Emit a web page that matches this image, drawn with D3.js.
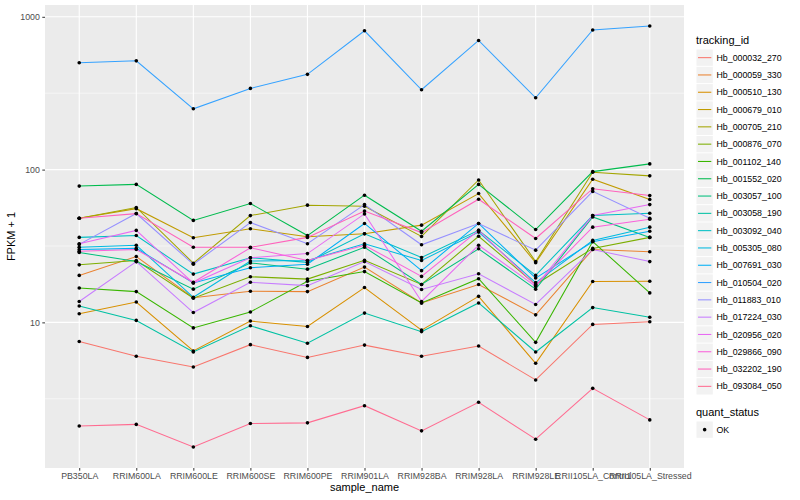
<!DOCTYPE html>
<html>
<head>
<meta charset="utf-8">
<script src="https://cdn.jsdelivr.net/npm/d3@7"></script>
<style>
  body { margin: 0; background: #fff; }
  text { font-family: "Liberation Sans", Arial, sans-serif; }
</style>
</head>
<body>
<div id="chart"></div>
<script>
const samples = ['PB350LA', 'RRIM600LA', 'RRIM600LE', 'RRIM600SE', 'RRIM600PE', 'RRIM901LA',
  'RRIM928BA', 'RRIM928LA', 'RRIM928LE', 'RRII105LA_Control', 'RRII105LA_Stressed'];

const trackingIds = ['Hb_000032_270', 'Hb_000059_330', 'Hb_000510_130', 'Hb_000679_010',
  'Hb_000705_210', 'Hb_000876_070', 'Hb_001102_140', 'Hb_001552_020', 'Hb_003057_100',
  'Hb_003058_190', 'Hb_003092_040', 'Hb_005305_080', 'Hb_007691_030', 'Hb_010504_020',
  'Hb_011883_010', 'Hb_017224_030', 'Hb_020956_020', 'Hb_029866_090', 'Hb_032202_190',
  'Hb_093084_050'];

// FPKM + 1 per sample, one array per tracking id
const hb_000032_270 = [7.5, 6.0, 5.1, 7.15, 5.9, 7.1, 6.0, 7.0, 4.2, 9.7, 10.1];
const hb_000059_330 = [20.3, 27, 14.5, 16, 15.9, 23, 13.4, 17.7, 11.2, 30, 29];
const hb_000510_130 = [11.4, 13.6, 6.5, 10.2, 9.4, 16.9, 8.9, 14.8, 5.4, 18.5, 18.6];
const hb_000679_010 = [48, 55.5, 35.8, 41, 36.3, 38, 43.3, 69.7, 24.6, 86.5, 63.7];
const hb_000705_210 = [48, 56.5, 24.4, 50, 58.5, 57.5, 36.5, 85.5, 25, 96, 91];
const hb_000876_070 = [23.8, 25.4, 14.4, 19.9, 19.2, 25.5, 17.7, 36.6, 17.7, 30.5, 36];
const hb_001102_140 = [16.8, 15.9, 9.2, 11.7, 18.6, 21.5, 13.4, 19.3, 7.4, 33.8, 15.6];
const hb_001552_020 = [78, 80, 46.5, 60, 37, 68, 39.5, 80, 40.5, 97, 109];
const hb_003057_100 = [28.7, 25, 16.5, 24.5, 22.3, 31, 17.7, 30.3, 16.5, 49, 36];
const hb_003058_190 = [12.8, 10.3, 6.4, 9.5, 7.3, 11.5, 8.7, 13.4, 6.4, 12.5, 10.8];
const hb_003092_040 = [36, 37, 20.7, 26.5, 24.7, 38, 26.6, 40, 20.3, 50, 51.8];
const hb_005305_080 = [31, 32, 14.6, 25.2, 25.4, 32.7, 25.4, 39, 18.2, 34.4, 42];
const hb_007691_030 = [30, 30.5, 18.1, 22.8, 24, 44.4, 21.8, 44.4, 19.5, 33.7, 39.5];
const hb_010504_020 = [500, 515, 250, 340, 420, 810, 333, 700, 295, 820, 870];
const hb_011883_010 = [32.4, 51.6, 24, 45, 32.7, 59, 32.2, 44.4, 29.7, 72, 48];
const hb_017224_030 = [13.7, 25, 11.6, 18.3, 17.4, 25, 16.4, 20.8, 13.1, 30, 25];
const hb_020956_020 = [32.7, 40, 18.1, 26.5, 28.2, 51.3, 13.7, 32, 17.2, 50, 59];
const hb_029866_090 = [29.2, 30, 18.3, 30.8, 25.4, 32, 20, 40, 17.5, 42, 47.3];
const hb_032202_190 = [48, 51.5, 31, 31, 36, 53.5, 38.7, 64, 35.4, 75, 67.6];
const hb_093084_050 = [2.1, 2.15, 1.53, 2.18, 2.2, 2.85, 1.95, 3.0, 1.72, 3.7, 2.3];

const seriesValues = [hb_000032_270, hb_000059_330, hb_000510_130, hb_000679_010,
  hb_000705_210, hb_000876_070, hb_001102_140, hb_001552_020, hb_003057_100,
  hb_003058_190, hb_003092_040, hb_005305_080, hb_007691_030, hb_010504_020,
  hb_011883_010, hb_017224_030, hb_020956_020, hb_029866_090, hb_032202_190,
  hb_093084_050];

const yTicks = [10, 100, 1000];
const yMinor = [Math.pow(10, 0.5), Math.pow(10, 1.5), Math.pow(10, 2.5)];
const quantStatus = ['OK'];

// ggplot default hue palette for 20 levels
const palette = ['#F8766D', '#EA8331', '#D89000', '#C09B00', '#A3A500', '#7CAE00', '#39B600',
  '#00BB4E', '#00BF7D', '#00C1A3', '#00BFC4', '#00BAE0', '#00B0F6', '#35A2FF', '#9590FF',
  '#C77CFF', '#E76BF3', '#FA62DB', '#FF62BC', '#FF6C91'];

const series = trackingIds.map((id, i) => ({
  id,
  color: palette[i],
  values: seriesValues[i].map((v, j) => ({ sample: samples[j], value: v }))
}));

const W = 800, H = 500;
const panel = { left: 45, right: 684, top: 5, bottom: 468 };

const svg = d3.select('#chart').append('svg')
  .attr('width', W)
  .attr('height', H);

const x = d3.scalePoint()
  .domain(samples)
  .range([panel.left, panel.right])
  .padding(0.6);

const allVals = seriesValues.flat();
const lo = Math.log10(d3.min(allVals)), hi = Math.log10(d3.max(allVals));
const ex = (hi - lo) * 0.05;
const y = d3.scaleLog()
  .domain([Math.pow(10, lo - ex), Math.pow(10, hi + ex)])
  .range([panel.bottom, panel.top]);

// panel background
svg.append('rect')
  .attr('x', panel.left)
  .attr('y', panel.top)
  .attr('width', panel.right - panel.left)
  .attr('height', panel.bottom - panel.top)
  .attr('fill', '#EBEBEB');

const grid = svg.append('g');
grid.selectAll('.minor')
  .data(yMinor)
  .enter()
  .append('line')
  .attr('x1', panel.left)
  .attr('x2', panel.right)
  .attr('y1', d => y(d))
  .attr('y2', d => y(d))
  .attr('stroke', '#fff')
  .attr('stroke-width', 0.55);

grid.selectAll('.major-y')
  .data(yTicks)
  .enter()
  .append('line')
  .attr('x1', panel.left)
  .attr('x2', panel.right)
  .attr('y1', d => y(d))
  .attr('y2', d => y(d))
  .attr('stroke', '#fff')
  .attr('stroke-width', 1.1);

grid.selectAll('.major-x')
  .data(samples)
  .enter()
  .append('line')
  .attr('x1', d => x(d))
  .attr('x2', d => x(d))
  .attr('y1', panel.top)
  .attr('y2', panel.bottom)
  .attr('stroke', '#fff')
  .attr('stroke-width', 1.1);

const line = d3.line()
  .x(d => x(d.sample))
  .y(d => y(d.value));

svg.append('g')
  .selectAll('path')
  .data(series)
  .enter()
  .append('path')
  .attr('d', d => line(d.values))
  .attr('fill', 'none')
  .attr('stroke', d => d.color)
  .attr('stroke-width', 1.05);

svg.append('g')
  .selectAll('circle')
  .data(series.flatMap(s => s.values))
  .enter()
  .append('circle')
  .attr('cx', d => x(d.sample))
  .attr('cy', d => y(d.value))
  .attr('r', 1.8)
  .attr('fill', '#000');

// axes
const xAxis = svg.append('g')
  .attr('transform', `translate(0,${panel.bottom})`)
  .call(d3.axisBottom(x).tickSize(2.7).tickPadding(2.5));
xAxis.select('.domain').remove();
xAxis.selectAll('line').attr('stroke', '#333');
xAxis.selectAll('text')
  .style('font-size', '8.8px')
  .attr('fill', '#4D4D4D');

const yAxis = svg.append('g')
  .attr('transform', `translate(${panel.left},0)`)
  .call(d3.axisLeft(y).tickValues(yTicks).tickFormat(d3.format('d')).tickSize(2.7).tickPadding(2.5));
yAxis.select('.domain').remove();
yAxis.selectAll('line').attr('stroke', '#333');
yAxis.selectAll('text')
  .style('font-size', '8.8px')
  .attr('fill', '#4D4D4D');

svg.append('text')
  .attr('x', (panel.left + panel.right) / 2)
  .attr('y', 491)
  .attr('text-anchor', 'middle')
  .style('font-size', '11px')
  .text('sample_name');

svg.append('text')
  .attr('transform', `translate(15,${(panel.top + panel.bottom) / 2}) rotate(-90)`)
  .attr('text-anchor', 'middle')
  .style('font-size', '11px')
  .text('FPKM + 1');

// legend: tracking_id
const legend = svg.append('g').attr('transform', 'translate(696,0)');
legend.append('text')
  .attr('x', 0)
  .attr('y', 44)
  .style('font-size', '11px')
  .text('tracking_id');

const keyY = d3.scaleBand()
  .domain(trackingIds)
  .range([49, 49 + 17.3 * trackingIds.length]);

const keys = legend.selectAll('.key')
  .data(series)
  .enter()
  .append('g')
  .attr('transform', d => `translate(0,${keyY(d.id)})`);
keys.append('rect')
  .attr('x', 0.5)
  .attr('y', 0.5)
  .attr('width', 16.3)
  .attr('height', 16.3)
  .attr('fill', '#F2F2F2');
keys.append('line')
  .attr('x1', 2)
  .attr('x2', 15.3)
  .attr('y1', 8.65)
  .attr('y2', 8.65)
  .attr('stroke', d => d.color)
  .attr('stroke-width', 1.05);
keys.append('text')
  .attr('x', 20.5)
  .attr('y', 11.8)
  .style('font-size', '8.8px')
  .text(d => d.id);

// legend: quant_status
const legend2 = svg.append('g').attr('transform', 'translate(696,0)');
legend2.append('text')
  .attr('x', 0)
  .attr('y', 416)
  .style('font-size', '11px')
  .text('quant_status');
const qKeys = legend2.selectAll('.qkey')
  .data(quantStatus)
  .enter()
  .append('g')
  .attr('transform', (d, i) => `translate(0,${421 + i * 17.3})`);
qKeys.append('rect')
  .attr('x', 0.5)
  .attr('y', 0.5)
  .attr('width', 16.3)
  .attr('height', 16.3)
  .attr('fill', '#F2F2F2');
qKeys.append('circle')
  .attr('cx', 8.65)
  .attr('cy', 8.65)
  .attr('r', 1.8)
  .attr('fill', '#000');
qKeys.append('text')
  .attr('x', 20.5)
  .attr('y', 11.8)
  .style('font-size', '8.8px')
  .text(d => d);
</script>
</body>
</html>
